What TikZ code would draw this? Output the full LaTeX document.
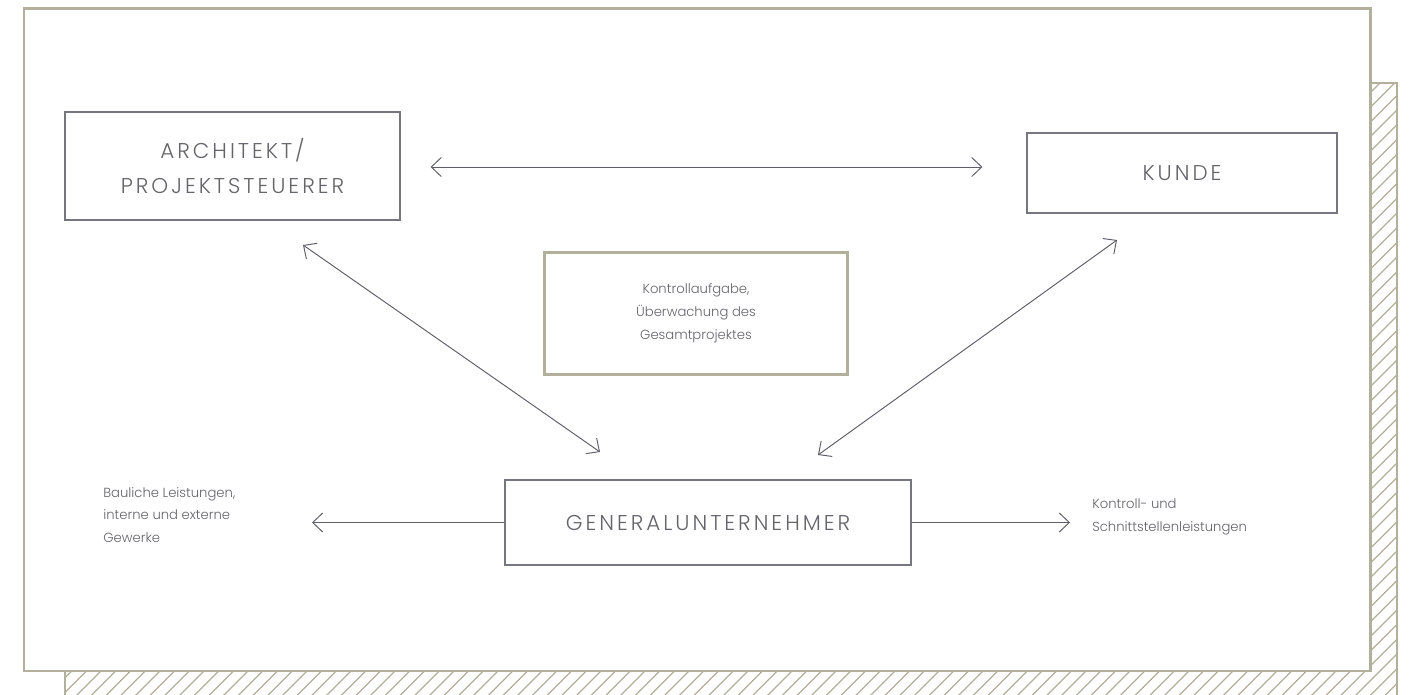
\documentclass[tikz,border=0pt]{standalone}
\usepackage{fontspec}
\setmainfont{Poppins Light}
\newfontfamily\spacedcaps{Poppins Light}[LetterSpace=14]
\usetikzlibrary{arrows.meta}
\definecolor{olive}{RGB}{178,176,155}
\definecolor{boxgray}{RGB}{118,118,126}
\definecolor{txtgray}{RGB}{100,100,106}
\definecolor{linegray}{RGB}{95,95,105}
\begin{document}
\begin{tikzpicture}[x = 0.02cm, y = -0.02cm, align = center,
    >={Straight Barb[length = 0.2cm, width = 0.38cm]},
    role/.style = {draw = boxgray, line width = 0.7pt, text = txtgray, inner sep = 0pt,
                   font = \spacedcaps\fontsize{12.2}{20.4}\selectfont},
    task/.style = {draw = olive, line width = 1.7pt, text = txtgray, inner sep = 0pt,
                   font = \fontsize{7.5}{13}\selectfont},
    note/.style = {text = txtgray, align = left, anchor = west, inner sep = 0pt,
                   font = \fontsize{7.5}{13}\selectfont},
    link/.style = {draw = linegray, line width = 0.55pt},
    hatch/.style = {draw = olive, line width = 0.7pt}]
                    \clip (0,0) rectangle (1410,695);

                    % shadow sheet
                    \begin{scope}
                        \clip (65,83) rectangle (1397,720);
                        \foreach \i in {0,...,135}
                            \draw[hatch] (\i*14.7-580, 720) -- ++(660,-660);
                    \end{scope}
                    \draw[olive, line width = 1.2pt] (65,720) -- (65,83) -- (1397,83) -- (1397,720);
                    \draw[olive, line width = 1.7pt, fill = white] (24,9) rectangle (1370,671);

                    \node[role, minimum width = 6.7cm, minimum height = 2.16cm] (arch) at (232.5,166) {ARCHITEKT/\\PROJEKTSTEUERER};
                    \node[role, minimum width = 6.2cm, minimum height = 1.6cm] (kunde) at (1182,173) {KUNDE};
                    \node[task, minimum width = 6.08cm, minimum height = 2.46cm] (task) at (696,313.5) {Kontrollaufgabe,\\Überwachung des\\Gesamtprojektes};
                    \node[role, minimum width = 8.12cm, minimum height = 1.7cm] (gu) at (708,522.5) {GENERALUNTERNEHMER};
                    \node[note] (bau) at (103,515) {Bauliche Leistungen,\\interne und externe\\Gewerke};
                    \node[note] (schnitt) at (1092,517) {Kontroll- und\\Schnittstellenleistungen};

                    \coordinate (archD) at (303,245);
                    \coordinate (guL) at (600,452);
                    \coordinate (kundeD) at (1117,240);
                    \coordinate (guR) at (818,455);
                    \coordinate (bauEnd) at (312,522.5);

                    \draw[link, <->, shorten <= 0.6cm, shorten >= 0.88cm] (arch.east |- 0,167) -- (kunde.west |- 0,167);
                    \draw[link, <->] (archD) -- (guL);
                    \draw[link, <->] (kundeD) -- (guR);
                    \draw[link, ->] (gu.west) -- (bauEnd);
                    \draw[link, ->, shorten >= 0.44cm] (gu.east) -- (gu.east -| schnitt.west);
                \end{tikzpicture}
\end{document}
